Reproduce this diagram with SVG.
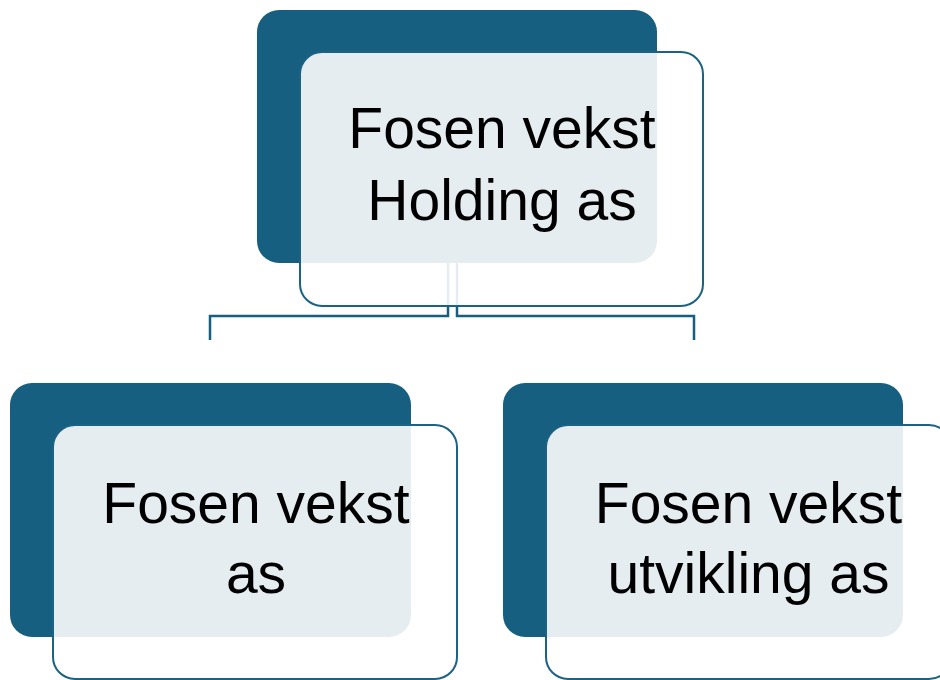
<svg xmlns="http://www.w3.org/2000/svg" width="940" height="680" viewBox="0 0 940 680">
<style>
.back{fill:#175F80;}
.front{fill:#FFFFFF;fill-opacity:0.89;stroke:#1B6283;stroke-width:2;}
.conn{fill:none;stroke:#175F80;stroke-width:2.5;}
.lbl{font-family:"Liberation Sans",Arial,sans-serif;font-size:57px;fill:#000;text-anchor:middle;}
</style>
<rect width="940" height="680" fill="#FFFFFF"/>
<g id="connectors">
<path class="conn" d="M448,262 V316 H210 V340"/>
<path class="conn" d="M457,262 V316 H694 V340"/>
</g>
<g id="node-holding">
<rect class="back" x="257" y="10" width="400" height="253" rx="22"/>
<rect class="front" x="300" y="52" width="403" height="254" rx="22"/>
<text class="lbl" x="502" y="148">Fosen vekst</text>
<text class="lbl" x="502" y="220">Holding as</text>
</g>
<g id="node-vekst">
<rect class="back" x="10" y="383" width="401" height="254" rx="22"/>
<rect class="front" x="53" y="425" width="404" height="254" rx="22"/>
<text class="lbl" x="256" y="523">Fosen vekst</text>
<text class="lbl" x="256" y="593">as</text>
</g>
<g id="node-utvikling">
<rect class="back" x="503" y="383" width="400" height="254" rx="22"/>
<rect class="front" x="546" y="425" width="405" height="254" rx="22"/>
<text class="lbl" x="748.5" y="523">Fosen vekst</text>
<text class="lbl" x="748.5" y="593">utvikling as</text>
</g>
</svg>
